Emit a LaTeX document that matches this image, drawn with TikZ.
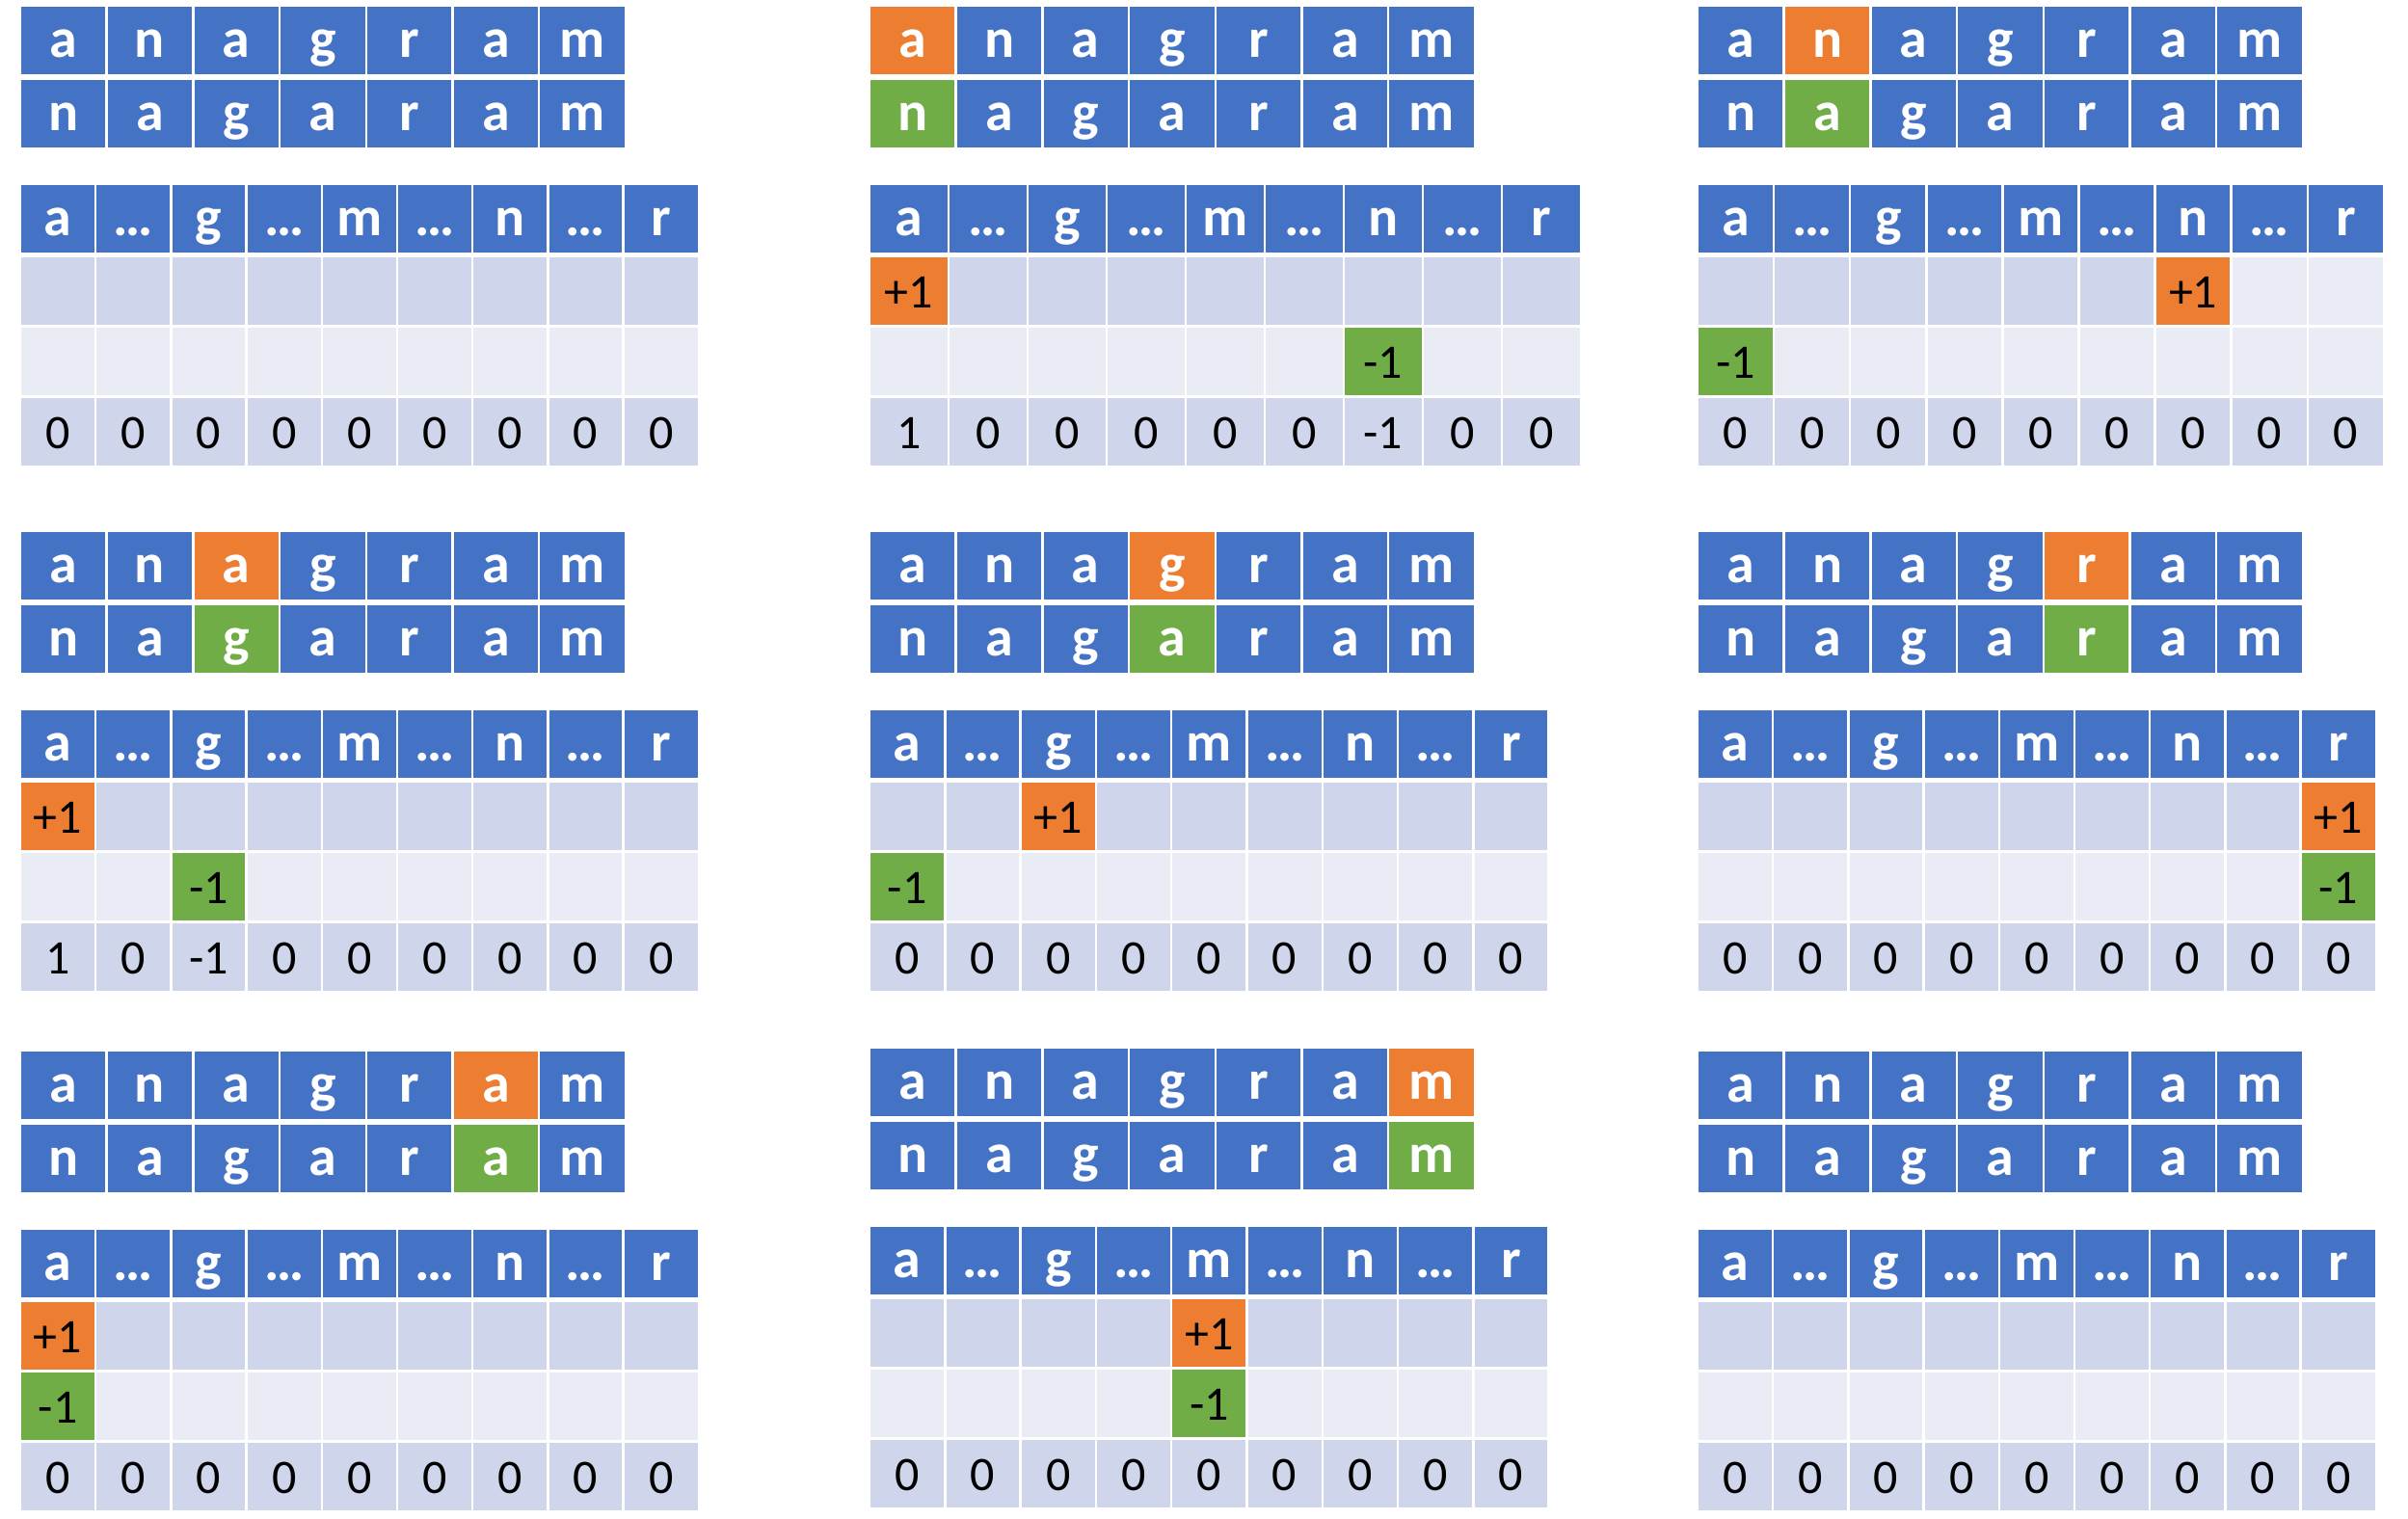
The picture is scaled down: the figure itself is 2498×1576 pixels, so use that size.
\documentclass[tikz,border=0pt]{standalone}
\usepackage{fontspec}
\setmainfont{Carlito}
\definecolor{blu}{HTML}{4472C4}
\definecolor{orng}{HTML}{ED7D31}
\definecolor{grn}{HTML}{70AD47}
\definecolor{midb}{HTML}{CFD5EA}
\definecolor{lite}{HTML}{E9EBF5}
\newcommand\cellbfont{\fontsize{58}{62}\selectfont\bfseries}
\newcommand\cellnfont{\fontsize{50}{54}\selectfont}
\tikzset{
  cellbase/.style={inner sep=0pt, outer sep=0pt, anchor=north west,
    text height=52.5pt, text depth=17.5pt, minimum height=70pt},
  lcell/.style={cellbase, minimum width=87.2pt, text=white, font=\cellbfont},
  tcell/.style={cellbase, minimum width={#1-2.5}, text=black, font=\cellnfont},
  hcell/.style={tcell=#1, fill=blu, text=white, font=\cellbfont}
}
% #1 prefix, #2 x0, #3 y0, #4 table pitch, #5 highlighted letter column,
% #6 orange table column, #7 green table column, #8 sum row, #9 first light column of row 1
\newcommand\drawpanel[9]{%
  \foreach \ltr [count=\k] in {a,n,a,g,r,a,m}{%
    \ifnum\k=#5\relax\def\fc{orng}\else\def\fc{blu}\fi
    \node[lcell,fill=\fc] (#1-u\k) at ({#2+(\k-1)*89.7+1.25},{#3}) {\ltr};
  }%
  \foreach \ltr [count=\k] in {n,a,g,a,r,a,m}{%
    \ifnum\k=#5\relax\def\fc{grn}\else\def\fc{blu}\fi
    \node[lcell,fill=\fc] (#1-w\k) at ({#2+(\k-1)*89.7+1.25},{#3+76}) {\ltr};
  }%
  \foreach \ltr [count=\k] in {a,…,g,…,m,…,n,…,r}{%
    \node[hcell=#4] (#1-h\k) at ({#2+(\k-1)*#4+1.25},{#3+185}) {\ltr};
  }%
  \foreach \k in {1,...,9}{%
    \ifnum\k=#6\relax
      \node[tcell=#4,fill=orng] (#1-p\k) at ({#2+(\k-1)*#4+1.25},{#3+260}) {+1};
    \else
      \ifnum\k<#9\relax\def\fc{midb}\else\def\fc{lite}\fi
      \node[tcell=#4,fill=\fc] (#1-p\k) at ({#2+(\k-1)*#4+1.25},{#3+260}) {};
    \fi
  }%
  \foreach \k in {1,...,9}{%
    \ifnum\k=#7\relax
      \node[tcell=#4,fill=grn] (#1-m\k) at ({#2+(\k-1)*#4+1.25},{#3+332.5}) {-1};
    \else
      \node[tcell=#4,fill=lite] (#1-m\k) at ({#2+(\k-1)*#4+1.25},{#3+332.5}) {};
    \fi
  }%
  \foreach \v [count=\k] in {#8}{%
    \node[tcell=#4,fill=midb] (#1-s\k) at ({#2+(\k-1)*#4+1.25},{#3+405.5}) {\v};
  }%
}
\begin{document}
\begin{tikzpicture}[x=1pt,y=-1pt]
\fill[white] (0,0) rectangle (2498,1576);
\useasboundingbox (0,0) rectangle (2498,1576);
\drawpanel{P1}{21}{7}{78.2}{0}{0}{0}{0,0,0,0,0,0,0,0,0}{10}
\drawpanel{P2}{902}{7}{82}{1}{1}{7}{1,0,0,0,0,0,-1,0,0}{10}
\drawpanel{P3}{1761}{7}{79.1}{2}{7}{1}{0,0,0,0,0,0,0,0,0}{8}
\drawpanel{P4}{21}{552}{78.2}{3}{1}{3}{1,0,-1,0,0,0,0,0,0}{10}
\drawpanel{P5}{902}{552}{78.3}{4}{3}{1}{0,0,0,0,0,0,0,0,0}{10}
\drawpanel{P6}{1761}{552}{78.2}{5}{9}{9}{0,0,0,0,0,0,0,0,0}{10}
\drawpanel{P7}{21}{1091}{78.2}{6}{1}{1}{0,0,0,0,0,0,0,0,0}{10}
\drawpanel{P8}{902}{1088}{78.3}{7}{5}{5}{0,0,0,0,0,0,0,0,0}{10}
\drawpanel{P9}{1761}{1091}{78.2}{0}{0}{0}{0,0,0,0,0,0,0,0,0}{10}
\end{tikzpicture}
\end{document}
